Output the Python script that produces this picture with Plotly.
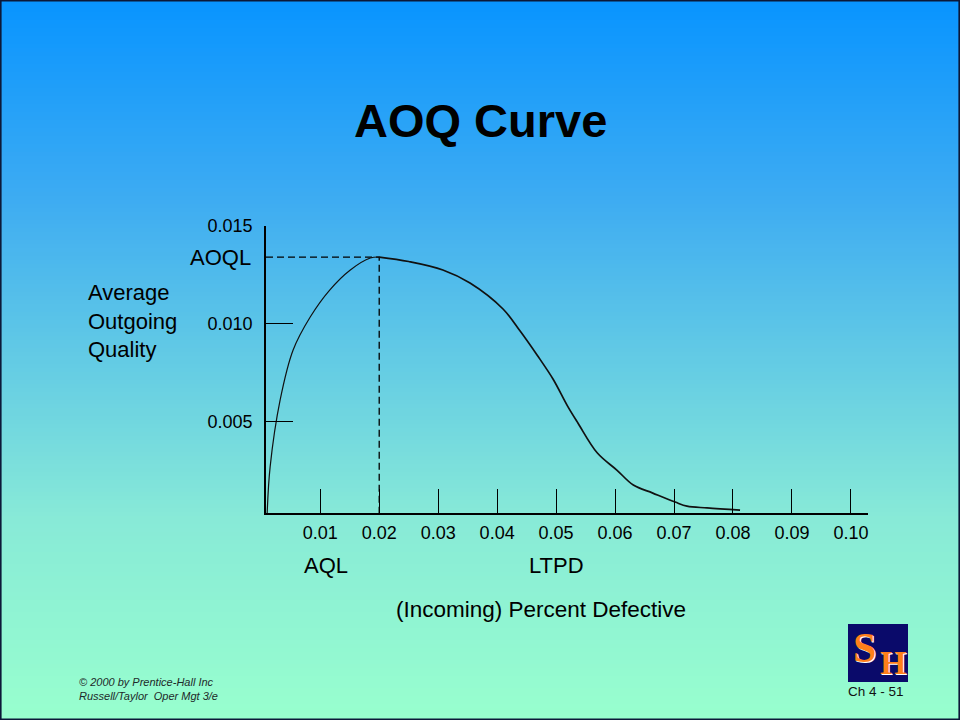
import plotly.graph_objects as go

# ---------------- data ----------------
aoq_x = [0.0010, 0.0015, 0.0032, 0.0054, 0.0083, 0.0116, 0.0151, 0.0185, 0.0200,
         0.0250, 0.0308, 0.0354, 0.0410, 0.0439, 0.0468, 0.0495, 0.0519,
         0.0537, 0.0570, 0.0603, 0.0631, 0.0664, 0.0702, 0.0722, 0.0756, 0.0812]
aoq_y = [0.0003, 0.00266, 0.00609, 0.00865, 0.01034, 0.01172, 0.01275, 0.01336, 0.01341,
         0.01318, 0.01275, 0.01208, 0.01075, 0.00962, 0.00838, 0.00715, 0.00580,
         0.00491, 0.00337, 0.00250, 0.00173, 0.00132, 0.00086, 0.00065, 0.00056, 0.00045]
peak_index = 8   # the AOQL point, where the rising part ends

aql = 0.02
aoql = 0.01341

x_tickvals = [0.01, 0.02, 0.03, 0.04, 0.05, 0.06, 0.07, 0.08, 0.09, 0.10]
x_ticktext = ["0.01", "0.02", "0.03", "0.04", "0.05", "0.06", "0.07", "0.08", "0.09", "0.10"]
y_tickvals = [0.005, 0.010, 0.015]
y_ticktext = ["0.005", "0.010", "0.015"]

title_text = "AOQ Curve"
y_label = "Average<br>Outgoing<br>Quality"
x_label = "(Incoming) Percent Defective"
footer_text = "<i>© 2000 by Prentice-Hall Inc<br>Russell/Taylor  Oper Mgt 3/e</i>"
page_text = "Ch 4 - 51"

# ---------------- layout helpers ----------------
W, H = 960, 720
L, R, T, B = 266, 868, 226, 513   # plot area in pixels
FONT = "Liberation Sans, Arial, sans-serif"


def X(px):
    return (px - L) / (R - L)


def Y(py):
    return (B - py) / (B - T)


# gradient background stops (pixel y, rgb)
stops = [(0, (8, 148, 255)), (200, (62, 172, 242)), (520, (136, 234, 215)), (720, (152, 255, 206))]


def grad(py):
    for (y0, c0), (y1, c1) in zip(stops[:-1], stops[1:]):
        if y0 <= py <= y1:
            t = (py - y0) / (y1 - y0)
            return "rgb(%d,%d,%d)" % tuple(round(a + (b - a) * t) for a, b in zip(c0, c1))
    return "rgb(%d,%d,%d)" % stops[-1][1]


shapes = []
step = 4
for i in range(0, H, step):
    shapes.append(dict(type="rect", xref="paper", yref="paper",
                       x0=X(-1), x1=X(W + 1), y0=Y(i + step + 0.6), y1=Y(i),
                       fillcolor=grad(i + step / 2), line=dict(width=0), layer="below"))

# slide border
shapes.append(dict(type="rect", xref="paper", yref="paper",
                   x0=X(0.8), x1=X(W - 0.8), y0=Y(H - 0.8), y1=Y(0.8),
                   line=dict(color="#0c1838", width=1.6), fillcolor="rgba(0,0,0,0)", layer="above"))

# logo box
shapes.append(dict(type="rect", xref="paper", yref="paper",
                   x0=X(848), x1=X(908), y0=Y(682), y1=Y(624),
                   fillcolor="#0a0a6a", line=dict(width=0), layer="above"))

fig = go.Figure()

fig.add_trace(go.Scatter(
    x=[0.0008, aql, aql], y=[aoql, aoql, 0.0003],
    mode="lines", line=dict(color="black", width=1.3, dash="7px,4px"),
    hoverinfo="skip", cliponaxis=False, showlegend=False))

# rising part (thin) and falling part (slightly heavier), as in the reference
fig.add_trace(go.Scatter(
    x=aoq_x[:peak_index + 1], y=aoq_y[:peak_index + 1], mode="lines",
    line=dict(color="#111111", width=1.2, shape="spline", smoothing=1.0),
    cliponaxis=False, showlegend=False))
fig.add_trace(go.Scatter(
    x=aoq_x[peak_index:], y=aoq_y[peak_index:], mode="lines",
    line=dict(color="#111111", width=1.7, shape="spline", smoothing=1.0),
    cliponaxis=False, showlegend=False))

ann = []


def add_text(text, px, py, size, xanchor="center", yanchor="middle", align="center",
             color="black", family=FONT, bold=False, shadow=None):
    f = dict(family=family, size=size, color=color)
    if bold:
        f["weight"] = "bold"
    if shadow:
        f["shadow"] = shadow
    ann.append(dict(text=text, x=X(px), y=Y(py), xref="paper", yref="paper",
                    xanchor=xanchor, yanchor=yanchor, align=align, showarrow=False, font=f))


add_text(title_text, 480, 121, 47, bold=True)
add_text("AOQL", 253, 257, 22, xanchor="right")
add_text(y_label, 86, 321, 22, xanchor="left", align="left")
add_text("AQL", 326, 565, 22)
add_text("LTPD", 556, 565, 22)
add_text(x_label, 541, 609, 22.5)
add_text(footer_text, 77, 689, 11, xanchor="left", align="left", color="#1e2a2a")
add_text(page_text, 876, 691, 13.5, color="#111111")
# logo letters
add_text("S", 878, 648, 42, xanchor="right", color="#ff7f1a",
         family="Liberation Serif, serif", bold=True, shadow="1px 1px 0px #ffffff")
add_text("H", 878, 662, 34, xanchor="left", color="#ff7f1a",
         family="Liberation Serif, serif", bold=True, shadow="1px 1px 0px #ffffff")

fig.update_layout(
    width=W, height=H,
    margin=dict(l=L, r=W - R, t=T, b=H - B, pad=0),
    paper_bgcolor="rgba(0,0,0,0)", plot_bgcolor="rgba(0,0,0,0)",
    shapes=shapes, annotations=ann, showlegend=False,
    font=dict(family=FONT, color="black"),
    xaxis=dict(range=[0.0008, 0.1029], showgrid=False, zeroline=False,
               showline=True, linecolor="black", linewidth=1.6,
               ticks="inside", ticklen=24, tickwidth=1.3, tickcolor="black",
               tickvals=x_tickvals, ticktext=x_ticktext,
               tickfont=dict(family=FONT, size=18, color="black"),
               ticklabelstandoff=3, fixedrange=True),
    yaxis=dict(range=[0.0003, 0.015], showgrid=False, zeroline=False,
               showline=True, linecolor="black", linewidth=1.6,
               ticks="inside", ticklen=27, tickwidth=1.3, tickcolor="black",
               tickvals=y_tickvals, ticktext=y_ticktext,
               tickfont=dict(family=FONT, size=18, color="black"),
               ticklabelstandoff=8, fixedrange=True),
)

fig.write_html("out.html", config={"displayModeBar": False},
               post_script="document.body.style.margin='0';document.body.style.overflow='hidden';")
